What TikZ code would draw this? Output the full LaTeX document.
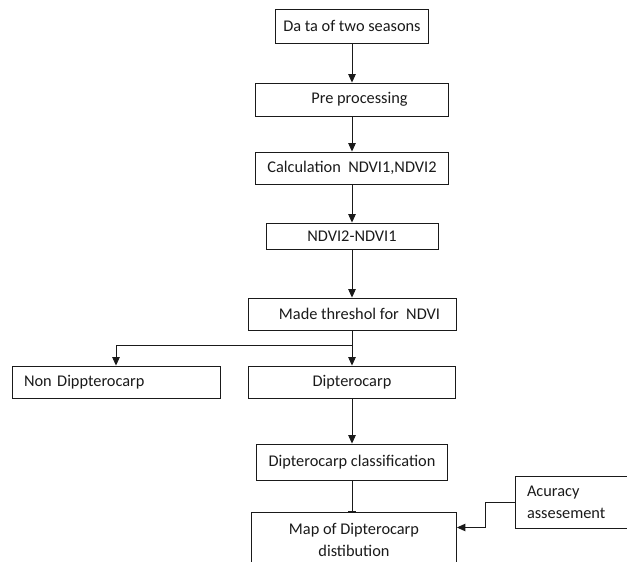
\documentclass[tikz,border=0pt]{standalone}
\usepackage{fontspec}
\setmainfont{Carlito}
\usepackage{tikz}
\usetikzlibrary{arrows.meta,positioning}
\definecolor{Ink}{HTML}{1A1A1A}

\begin{document}
\begin{tikzpicture}[x=0.02cm,y=-0.02cm,
  box/.style={draw=Ink,line width=0.5pt,inner sep=0pt,align=center,text=Ink,font=\fontsize{9.3}{12.5}\selectfont},
  leftbox/.style={box,align=left,inner xsep=0.24cm},
  arrow/.style={-{Triangle[length=1.7mm,width=1.5mm]},line width=0.5pt,draw=Ink},
  plain/.style={line width=0.5pt,draw=Ink}
]
\clip (0,0) rectangle (627,562);
\node[box,minimum width=3.06cm,minimum height=0.68cm] (data) at (352,26) {Da ta of two seasons};
\node[box,minimum width=3.86cm,minimum height=0.66cm] (pre) at (352,99.5) {\hspace*{0.3cm}Pre processing};
\node[box,minimum width=3.86cm,minimum height=0.64cm] (calc) at (352,168) {Calculation \ NDVI1,NDVI2};
\node[box,minimum width=3.44cm,minimum height=0.52cm] (diff) at (352,236) {NDVI2-NDVI1};
\node[box,minimum width=4.16cm,minimum height=0.64cm] (thr) at (352,314) {\hspace*{0.3cm}Made threshol for \ NDVI};
\node[leftbox,text width=3.68cm,minimum height=0.64cm] (non) at (116,382) {Non Dippterocarp};
\node[box,minimum width=4.14cm,minimum height=0.64cm] (dip) at (352,382) {Dipterocarp};
\node[box,minimum width=3.82cm,minimum height=0.72cm] (cls) at (352,462) {Dipterocarp classification};
\node[box,minimum width=4.10cm,minimum height=1.1cm] (map) at (354,539.5) {Map of Dipterocarp\\distibution};
\node[leftbox,text width=2.42cm,minimum height=1.04cm] (acc) at (587.5,502) {Acuracy\\assesement};
\coordinate (split) at (352,345);
\draw[arrow] (data) -- (pre);
\draw[arrow] (pre) -- (calc);
\draw[arrow] (calc) -- (diff);
\draw[arrow] (diff) -- (thr);
\draw[arrow] (thr) -- (dip);
\draw[arrow] (split) -| (non.north);
\draw[arrow] (dip) -- (cls);
\draw[plain,-{Bar[width=4pt]}] (cls.south) -- (cls.south |- map.north);
\draw[arrow] (acc.west) -- ++(-29,0) |- ([yshift=0.24cm]map.east);
\end{tikzpicture}
\end{document}
